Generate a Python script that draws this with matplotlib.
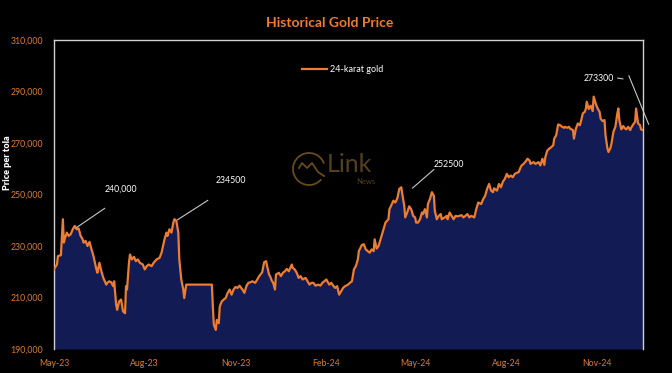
import matplotlib
matplotlib.use("Agg")
import matplotlib.pyplot as plt
import matplotlib.dates as mdates
import matplotlib.ticker as mticker
from matplotlib.patches import Arc
import numpy as np
import pandas as pd

# 24-karat gold price per tola (thousand PKR)
start = pd.Timestamp("2023-05-01")
days = [0, 3, 4, 7, 9, 10, 11, 13, 15, 17, 19, 21, 23, 25, 27, 29, 30, 32, 34, 36,
        38, 40, 43, 44, 46, 48, 50, 53, 54, 56, 58, 60, 61, 63, 64, 66, 68, 70, 72, 73,
        74, 76, 77, 79, 81, 83, 85, 87, 90, 92, 94, 96, 99, 101, 104, 107, 109, 112, 114, 115,
        117, 119, 121, 122, 124, 126, 127, 129, 131, 132, 134, 160, 161, 162, 164, 165, 167, 168, 170, 172,
        174, 176, 178, 180, 182, 184, 186, 188, 191, 193, 195, 197, 199, 201, 204, 206, 208, 211, 213, 215,
        216, 218, 219, 221, 222, 224, 225, 228, 230, 232, 234, 236, 238, 241, 242, 244, 246, 248, 250, 252,
        255, 257, 259, 261, 263, 265, 268, 270, 272, 274, 276, 279, 281, 283, 285, 287, 289, 291, 293, 295,
        298, 300, 302, 304, 306, 308, 309, 312, 314, 316, 318, 320, 322, 324, 325, 327, 329, 332, 334, 336,
        339, 340, 342, 344, 346, 348, 350, 352, 353, 355, 356, 358, 360, 362, 364, 366, 367, 369, 371, 373,
        374, 376, 378, 379, 381, 383, 385, 386, 388, 390, 392, 393, 396, 398, 399, 401, 403, 405, 407, 409,
        411, 413, 415, 417, 419, 421, 423, 426, 428, 430, 433, 435, 437, 439, 441, 443, 445, 446, 449, 451,
        453, 455, 457, 459, 461, 463, 465, 467, 469, 471, 473, 474, 476, 478, 480, 482, 483, 486, 488, 490,
        491, 493, 495, 497, 498, 500, 502, 504, 506, 507, 509, 511, 513, 515, 517, 518, 520, 522, 523, 526,
        527, 529, 531, 533, 534, 536, 538, 539, 540, 542, 544, 546, 547, 549, 551, 553, 554, 556, 558, 559,
        561, 562, 564, 565, 567, 569, 571, 572, 573, 575, 577, 578, 580, 582, 584, 585, 587, 589, 590, 592,
        594, 595, 597]
price_k = [221.0, 222.8, 226.1, 226.4, 240.4, 231.3, 232.9, 235.2, 233.9, 234.6, 236.5, 237.8, 236.5, 236.8, 233.9, 232.6, 231.3, 232.0, 230.0, 231.6,
           228.7, 226.1, 220.9, 219.6, 223.5, 220.2, 217.6, 215.0, 215.7, 216.3, 215.9, 214.4, 216.3, 207.2, 205.2, 208.5, 209.2, 204.6, 203.9, 214.4,
           213.1, 223.5, 226.7, 224.8, 225.8, 224.1, 224.8, 223.5, 222.8, 220.9, 222.2, 222.8, 222.2, 223.5, 224.8, 225.4, 227.4, 232.6, 235.2, 233.9,
           236.5, 235.2, 239.1, 240.4, 239.8, 235.2, 224.8, 217.0, 213.1, 209.8, 215.0, 215.0, 206.5, 199.4, 197.4, 201.3, 200.0, 206.5, 208.5, 209.2,
           209.8, 211.8, 213.1, 211.1, 213.1, 214.1, 213.7, 214.6, 213.1, 211.8, 214.4, 215.7, 215.9, 216.3, 215.7, 217.0, 218.3, 219.8, 223.7, 224.1,
           222.2, 218.9, 218.3, 216.3, 215.9, 213.1, 218.9, 219.6, 218.3, 219.6, 220.2, 221.1, 220.2, 222.8, 221.5, 220.9, 219.6, 217.6, 218.3, 217.0,
           217.6, 216.3, 215.0, 215.7, 215.7, 214.6, 215.0, 214.6, 215.7, 216.3, 217.0, 215.0, 215.7, 214.6, 213.7, 214.4, 211.1, 212.4, 213.7, 214.4,
           215.0, 215.7, 216.3, 220.9, 222.2, 224.8, 228.0, 230.4, 230.7, 228.7, 228.0, 227.4, 228.7, 228.0, 232.6, 229.0, 230.0, 233.9, 236.5, 239.1,
           240.4, 244.3, 245.9, 247.6, 246.9, 248.5, 252.2, 252.8, 250.2, 245.6, 241.1, 243.0, 245.4, 244.3, 241.7, 241.1, 239.1, 239.1, 240.4, 243.0,
           242.4, 244.3, 241.1, 246.3, 248.2, 250.9, 249.5, 243.7, 240.4, 241.7, 242.4, 240.4, 241.1, 241.7, 240.4, 243.0, 241.7, 240.4, 241.7, 241.5,
           241.7, 242.0, 241.1, 241.7, 242.4, 241.1, 241.7, 241.1, 244.3, 246.9, 246.3, 248.2, 249.5, 252.2, 254.1, 251.5, 250.9, 252.4, 251.5, 254.1,
           252.8, 255.0, 256.1, 258.0, 256.7, 257.4, 256.7, 258.0, 258.4, 258.7, 260.6, 261.3, 261.9, 262.8, 263.9, 263.2, 261.9, 262.6, 261.9, 262.3,
           262.6, 261.3, 263.9, 261.5, 264.5, 267.1, 267.8, 268.4, 269.1, 271.7, 273.0, 277.2, 276.9, 276.3, 275.9, 276.3, 275.9, 276.3, 275.6, 275.0,
           271.7, 275.6, 277.6, 276.9, 278.2, 281.5, 282.1, 283.2, 286.0, 283.2, 284.5, 282.4, 288.0, 285.4, 283.4, 282.1, 279.5, 278.5, 278.9, 273.0,
           267.8, 266.5, 268.1, 269.7, 274.3, 276.3, 281.5, 283.4, 278.9, 275.3, 276.6, 275.9, 275.3, 276.3, 275.0, 275.9, 277.2, 278.2, 283.4, 277.6,
           276.9, 275.3, 275.0]
series_name = "24-karat gold"
ann_labels = ["240,000", "234500", "252500", "273300"]

dates = start + pd.to_timedelta(days, unit="D")
prices = np.array(price_k) * 1000

orange = "#ED7D31"
navy = "#131B55"
tick_col = "#E07A2E"
frame = "#D0D0D0"
font = ["Lato", "DejaVu Sans"]
plt.rcParams["font.family"] = font

fig = plt.figure(figsize=(6.72, 3.73), dpi=100, facecolor="black")
ax = fig.add_axes([54 / 672, 24 / 373, 589 / 672, 309 / 373], facecolor="black")

ax.fill_between(dates, prices, 190000, color=navy, lw=0, zorder=2)
ax.plot(dates, prices, color=orange, lw=1.6, label=series_name, zorder=3)

ax.set_ylim(190000, 310000)
ax.set_yticks(np.arange(190000, 310001, 20000))
ax.set_xlim(start, start + pd.Timedelta(days=597))
ax.yaxis.set_major_formatter(mticker.FuncFormatter(lambda v, p: f"{v:,.0f}"))
ax.set_xticks(pd.date_range("2023-05-01", "2024-11-01", freq="3MS"))
ax.xaxis.set_major_formatter(mdates.DateFormatter("%b-%y"))
ax.tick_params(length=0, labelsize=6.3, colors=tick_col, pad=7)
ax.tick_params(axis="y", pad=8)

for side in ["left", "right", "top"]:
    ax.spines[side].set_color(frame)
    ax.spines[side].set_linewidth(1)
ax.spines["bottom"].set_visible(False)

leg = ax.legend(loc="center", bbox_to_anchor=(0.49, 0.903), frameon=False,
                fontsize=6.5, handlelength=2.8, handletextpad=0.3)
for t in leg.get_texts():
    t.set_color("white")

# callouts
def day(d):
    return start + pd.Timedelta(days=d)

lc = "#C8C8C8"
callouts = [((51.3, 244.6), (23, 237.2), (68, 252.0)),
            ((155.8, 247.7), (125.3, 240.2), (179.7, 255.4)),
            ((385, 259.7), (363.4, 252.5), (400, 261.5))]
for (p0, p1, tp), lab in zip(callouts, ann_labels[:3]):
    ax.plot([day(p0[0]), day(p1[0])], [p0[1] * 1000, p1[1] * 1000], color=lc, lw=0.8, zorder=4)
    ax.text(day(tp[0]), tp[1] * 1000, lab, color="white", fontsize=6.3, ha="center", va="center", zorder=5)
ax.text(day(552.6), 295200, ann_labels[3], color="white", fontsize=6.3, ha="center", va="center")
ax.plot([day(571.4), day(576.6)], [295200, 294900], color=lc, lw=0.8)
ax.plot([day(582.7), day(602.7)], [296100, 277300], color=lc, lw=0.8, clip_on=False)

fig.text(330 / 672, 1 - 23 / 373, "Historical Gold Price", color=orange, fontsize=10,
         fontweight="bold", ha="center", va="center")
fig.text(8 / 672, 1 - 163 / 373, "Price per tola", color="white", fontsize=6.5,
         fontweight="heavy", rotation=90, ha="center", va="center")

# faint watermark logo
ov = fig.add_axes([0, 0, 1, 1], facecolor="none")
ov.set_xlim(0, 672)
ov.set_ylim(373, 0)
ov.axis("off")
logo = "#6B4A1C"
ov.add_patch(Arc((309, 169), 32, 32, theta1=40, theta2=340, color=logo, lw=1.3))
ov.plot([299, 302, 307, 312, 318, 324], [168, 163, 168, 163, 172, 176], color=logo, lw=1.3)
ov.text(327, 165, "Link", color="#54401F", fontsize=18, ha="left", va="center")
ov.text(366, 182, "News", color="#54401F", fontsize=5.5, ha="center", va="center")

fig.savefig("out.png", dpi=100, facecolor="black")
